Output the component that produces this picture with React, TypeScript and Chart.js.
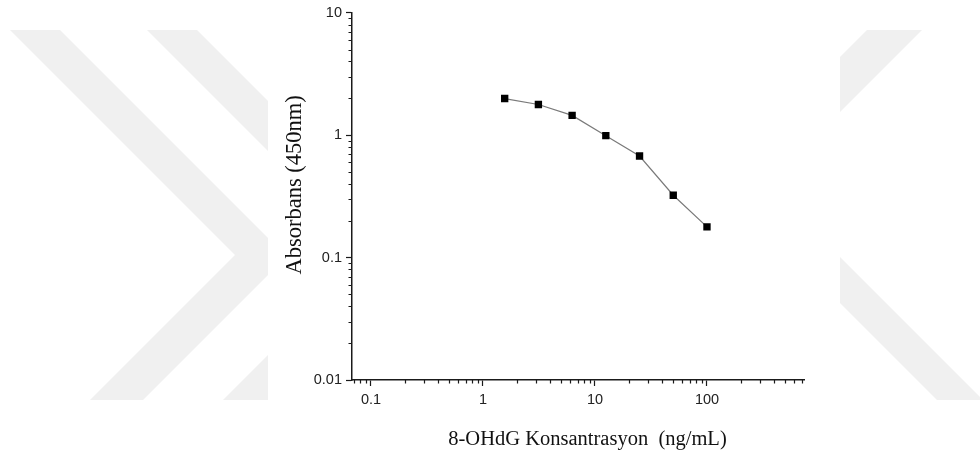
import React, { useEffect, useRef } from "react";
import { Chart, registerables } from "chart.js";

Chart.register(...registerables);

// ---- data ----
const concentrations = [1.5625, 3.125, 6.25, 12.5, 25, 50, 100];
const absorbance = [1.99, 1.78, 1.45, 0.99, 0.675, 0.323, 0.178];

const xMajorTicks = [0.1, 1, 10, 100];
const yMajorTicks = [0.01, 0.1, 1, 10];
const xRange = [0.0677, 735];
const yRange = [0.01, 10];

const xTitle = "8-OHdG Konsantrasyon  (ng/mL)";
const yTitle = "Absorbans (450nm)";

// ---- styles ----
const AXIS = "#1a1a1a";
const WATERMARK = "#f0f0f0";
const W = 980;
const H = 461;

function minorTicks(majors: number[], min: number, max: number) {
  const out: number[] = [];
  const decades = [majors[0] / 10, ...majors];
  for (const d of decades) {
    for (let k = 2; k <= 9; k++) {
      const v = d * k;
      if (v >= min * 0.999 && v <= max * 1.001) out.push(v);
    }
  }
  return out;
}

const xMinor = minorTicks(xMajorTicks, xRange[0], xRange[1]);
const yMinor = minorTicks(yMajorTicks, yRange[0], yRange[1]);

const watermarkPlugin = {
  id: "watermark",
  beforeDraw(chart: any) {
    const ctx = chart.ctx;
    ctx.save();
    ctx.fillStyle = WATERMARK;
    const poly = (pts: number[][]) => {
      ctx.beginPath();
      ctx.moveTo(pts[0][0], pts[0][1]);
      for (let i = 1; i < pts.length; i++) ctx.lineTo(pts[i][0], pts[i][1]);
      ctx.closePath();
      ctx.fill();
    };
    // left side chevrons ">"
    ctx.save();
    ctx.beginPath();
    ctx.rect(0, 30, 268, 370);
    ctx.clip();
    poly([[10, 30], [60, 30], [286.5, 256.5], [143, 400], [90, 400], [235, 255]]);
    poly([[147, 30], [197, 30], [420, 253], [273, 400], [223, 400], [370, 253]]);
    ctx.restore();
    // right side chevron "<"
    ctx.save();
    ctx.beginPath();
    ctx.rect(840, 30, 140, 370);
    ctx.clip();
    poly([[867, 30], [922, 30], [767.5, 184.5], [983, 400], [937, 400], [717, 180]]);
    ctx.restore();
    ctx.restore();
  },
};

const extrasPlugin = {
  id: "extras",
  afterDraw(chart: any) {
    const ctx = chart.ctx;
    const xs = chart.scales.x;
    const ys = chart.scales.y;
    const area = chart.chartArea;
    ctx.save();
    ctx.strokeStyle = AXIS;
    ctx.lineWidth = 1.2;
    ctx.beginPath();
    for (const v of xMinor) {
      const px = Math.round(xs.getPixelForValue(v)) + 0.5;
      ctx.moveTo(px, area.bottom);
      ctx.lineTo(px, area.bottom + 3.5);
    }
    for (const v of yMinor) {
      const py = Math.round(ys.getPixelForValue(v)) + 0.5;
      ctx.moveTo(area.left, py);
      ctx.lineTo(area.left - 3.5, py);
    }
    ctx.stroke();

    // axis titles
    ctx.fillStyle = "#111";
    ctx.textAlign = "center";
    ctx.textBaseline = "middle";
    ctx.font = "20.5px 'Liberation Serif', 'Times New Roman', serif";
    ctx.fillText(xTitle, (area.left + area.right) / 2 + 9.5, area.bottom + 60);

    ctx.save();
    ctx.translate(area.left - 57, (area.top + area.bottom) / 2 - 11.5);
    ctx.rotate(-Math.PI / 2);
    ctx.font = "22.5px 'Liberation Serif', 'Times New Roman', serif";
    ctx.fillText(yTitle, 0, 0);
    ctx.restore();
    ctx.restore();
  },
};

export default function App() {
  const ref = useRef<HTMLCanvasElement | null>(null);

  useEffect(() => {
    if (!ref.current) return;
    Chart.defaults.font.family = "'Liberation Sans', Arial, sans-serif";
    const chart = new Chart(ref.current, {
      type: "line",
      data: {
        datasets: [
          {
            data: concentrations.map((c, i) => ({ x: c, y: absorbance[i] })),
            borderColor: "#7a7a7a",
            borderWidth: 1.2,
            pointStyle: "rect",
            pointRadius: 5.2,
            pointBackgroundColor: "#000",
            pointBorderWidth: 0,
            fill: false,
            tension: 0,
          },
        ],
      },
      options: {
        responsive: false,
        animation: false,
        events: [],
        layout: { padding: { top: 11, right: 176, bottom: 0, left: 0 } },
        plugins: {
          legend: { display: false },
          tooltip: { enabled: false },
          title: { display: false },
        },
        scales: {
          x: {
            type: "logarithmic",
            position: "bottom",
            min: xRange[0],
            max: xRange[1],
            afterBuildTicks: (s: any) => {
              s.ticks = xMajorTicks.map((v) => ({ value: v, major: true }));
            },
            afterFit: (s: any) => {
              s.height = 81;
            },
            grid: {
              drawOnChartArea: false,
              drawTicks: true,
              tickLength: 6,
              tickColor: AXIS,
              tickWidth: 1.2,
            },
            border: { display: true, color: AXIS, width: 1.5 },
            ticks: {
              autoSkip: false,
              maxRotation: 0,
              padding: 5,
              color: "#222",
              font: { size: 14.5 },
              callback: (v: any) => String(v),
            },
          },
          y: {
            type: "logarithmic",
            position: "left",
            min: yRange[0],
            max: yRange[1],
            afterBuildTicks: (s: any) => {
              s.ticks = yMajorTicks.map((v) => ({ value: v, major: true }));
            },
            afterFit: (s: any) => {
              s.width = 352;
            },
            grid: {
              drawOnChartArea: false,
              drawTicks: true,
              tickLength: 6,
              tickColor: AXIS,
              tickWidth: 1.2,
            },
            border: { display: true, color: AXIS, width: 1.5 },
            ticks: {
              autoSkip: false,
              padding: 4,
              color: "#222",
              font: { size: 14.5 },
              callback: (v: any) => String(v),
            },
          },
        },
      },
      plugins: [watermarkPlugin, extrasPlugin],
    } as any);
    return () => chart.destroy();
  }, []);

  return (
    <canvas
      ref={ref}
      width={W}
      height={H}
      style={{ position: "fixed", left: 0, top: 0, width: W, height: H, background: "#fff" }}
    />
  );
}
